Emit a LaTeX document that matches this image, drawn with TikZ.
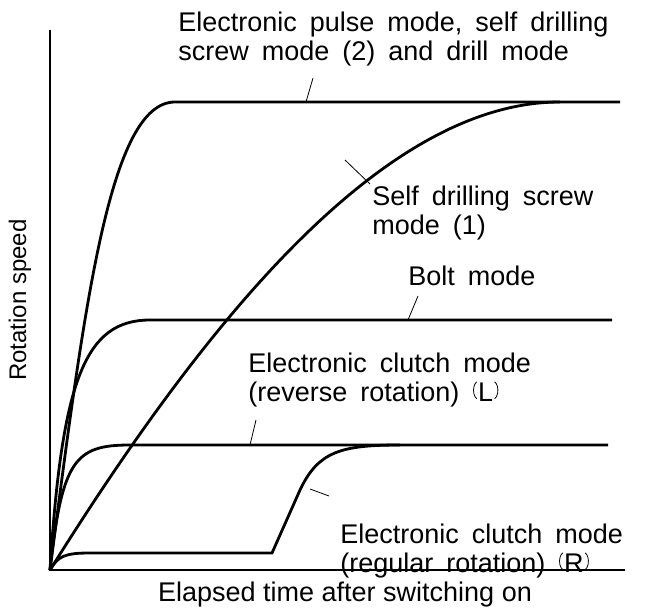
\documentclass[tikz,border=0pt]{standalone}
\usepackage{fontspec}
\setmainfont{Liberation Sans}
\newcommand{\lblfont}{\fontsize{13.5}{14.8}\selectfont\spaceskip=6.5pt\relax}
\tikzset{
  curve/.style  = {line width=1.4pt},
  leader/.style = {thin},
  lbl/.style    = {align=left, anchor=west, inner sep=0pt, font=\lblfont}
}
\newcommand{\rotmark}[1]{\tikz[baseline=(m.base)]{\node[inner sep=0.5pt] (m) {#1};
  \draw[thin] (m.north west) arc (110:250:2.5pt and 4.5pt);
  \draw[thin] (m.north east) arc (70:-70:2.5pt and 4.5pt);}}

\begin{document}
\begin{tikzpicture}[x=0.5pt, y=-0.5pt]
\useasboundingbox (0,0) rectangle (653,609);

% axes
\coordinate (O) at (50,570);
\coordinate (ytop) at (50,30);
\coordinate (xend) at (625,570);
\draw[thick] (ytop) -- (O) -- (xend);
\node[rotate=90, font=\fontsize{12}{14}\selectfont] (ylab) at (20,300) {Rotation speed};
\node[font=\fontsize{13.5}{14}\selectfont] (xlab) at (345,595) {Elapsed time after switching on};

% curves
\draw[curve] (O) .. controls (85,300) and (110,102) .. (175,102) -- (620,102);
\draw[curve] (O) .. controls (200,330) and (380,102) .. (560,102);
\draw[curve] (O) .. controls (62,380) and (85,320) .. (150,320) -- (612,320);
\draw[curve] (O) .. controls (62,460) and (75,445) .. (130,445) -- (608,445);
\draw[curve] (O) .. controls (58,556) and (65,553) .. (90,553) -- (272,553)
  -- (300,490) .. controls (318,452) and (340,445) .. (400,445);

% labels
\node[lbl] (t1) at (178,39) {Electronic pulse mode, self drilling\\screw mode (2) and drill mode};
\node[lbl] (t2) at (372,213) {Self drilling screw\\mode (1)};
\node[lbl] (t3) at (408,276) {Bolt mode};
\node[lbl] (t4) at (248,380) {Electronic clutch mode\\(reverse rotation) \rotmark{L}};
\node[lbl] (t5) at (340,551) {Electronic clutch mode\\(regular rotation) \rotmark{R}};

% leaders
\draw[leader] (313,78) -- (306,102);
\draw[leader] (370,184) -- (345,160);
\draw[leader] (418,296) -- (408,320);
\draw[leader] (256,420) -- (250,445);
\draw[leader] (329,496) -- (310,489);
\end{tikzpicture}
\end{document}
